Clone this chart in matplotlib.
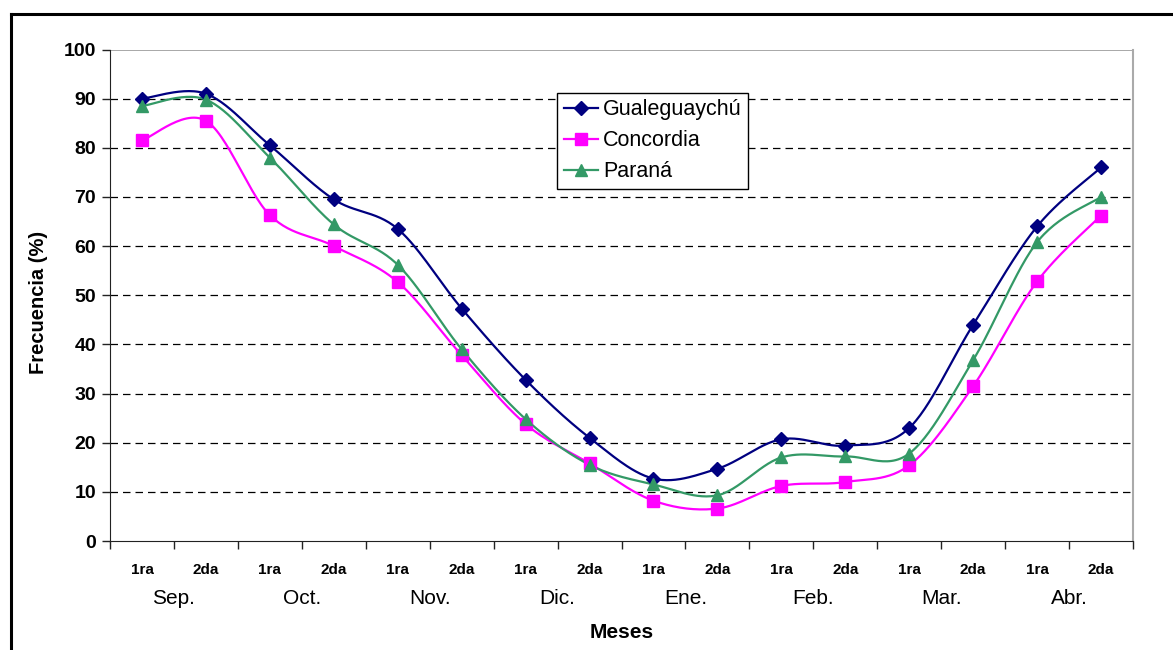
import numpy as np
import matplotlib
matplotlib.use("Agg")
import matplotlib.pyplot as plt
from matplotlib.lines import Line2D
from matplotlib.transforms import blended_transform_factory

plt.rcParams["font.family"] = ["Liberation Sans", "DejaVu Sans"]

months = ["Sep.", "Oct.", "Nov.", "Dic.", "Ene.", "Feb.", "Mar.", "Abr."]
halves = ["1ra", "2da"]

gualeguaychu = [90.0, 91.0, 80.5, 69.5, 63.5, 47.3, 32.8, 21.0,
                12.7, 14.7, 20.7, 19.4, 23.0, 44.0, 64.0, 76.0]
concordia = [81.5, 85.5, 66.3, 60.0, 52.7, 37.8, 23.8, 15.8,
             8.2, 6.6, 11.2, 12.0, 15.4, 31.5, 52.8, 66.2]
parana = [88.5, 89.8, 78.0, 64.4, 56.2, 39.0, 24.8, 15.5,
          11.5, 9.3, 17.0, 17.2, 17.8, 36.8, 60.8, 70.0]

series = [
    ("Gualeguaychú", gualeguaychu, "#000080", "D", 7),
    ("Concordia", concordia, "#FF00FF", "s", 8),
    ("Paraná", parana, "#339966", "^", 9),
]


def smooth(x, y, n=30):
    # bezier through the points, like excel's smoothed line
    x = np.asarray(x, float)
    y = np.asarray(y, float)
    px = np.concatenate([[x[0]], x, [x[-1]]])
    py = np.concatenate([[y[0]], y, [y[-1]]])
    t = np.linspace(0, 1, n)
    xs, ys = [], []
    for i in range(1, len(px) - 2):
        p0 = np.array([px[i], py[i]])
        p3 = np.array([px[i + 1], py[i + 1]])
        c1 = p0 + (p3 - np.array([px[i - 1], py[i - 1]])) / 6
        c2 = p3 - (np.array([px[i + 2], py[i + 2]]) - p0) / 6
        b = ((1 - t) ** 3)[:, None] * p0 + (3 * (1 - t) ** 2 * t)[:, None] * c1 \
            + (3 * (1 - t) * t ** 2)[:, None] * c2 + (t ** 3)[:, None] * p3
        xs.append(b[:, 0])
        ys.append(b[:, 1])
    return np.concatenate(xs), np.concatenate(ys)


fig = plt.figure(figsize=(11.73, 6.5), dpi=100)
ax = fig.add_axes([110 / 1173, 109 / 650, 1023 / 1173, 491.5 / 650])

x = np.arange(16)
for name, vals, color, marker, ms in series:
    sx, sy = smooth(x, vals)
    ax.plot(sx, sy, color=color, lw=1.6, zorder=3)
    ax.plot(x, vals, linestyle="none", marker=marker, color=color,
            markersize=ms, zorder=4)

ax.set_xlim(-0.5, 15.5)
ax.set_ylim(0, 100)

ax.set_yticks(range(0, 101, 10))
ax.tick_params(axis="y", direction="out", length=6, width=1, pad=4,
               labelsize=14, colors="#222222")
for lbl in ax.get_yticklabels():
    lbl.set_fontweight("bold")
    lbl.set_color("black")

ax.set_xticks(np.arange(-0.5, 16, 1))
ax.set_xticklabels([])
ax.tick_params(axis="x", direction="out", length=6, width=1, colors="#222222")

for i in range(1, 10):
    ax.axhline(i * 10, color="black", lw=0.9, ls=(0, (6, 4)), zorder=1)
ax.axhline(100, color="#999999", lw=1.2, zorder=1)

ax.spines["left"].set_color("#222222")
ax.spines["bottom"].set_color("#222222")
ax.spines["top"].set_visible(False)
ax.spines["right"].set_color("#aaaaaa")
ax.spines["right"].set_linewidth(1.5)

trans = blended_transform_factory(ax.transData, ax.transAxes)
for i in range(16):
    ax.text(i, -0.06, halves[i % 2], transform=trans, ha="center", va="center",
            fontsize=11, fontweight="bold")
for j, m in enumerate(months):
    ax.text(2 * j + 0.5, -0.118, m, transform=trans, ha="center", va="center",
            fontsize=15)

ax.text(0.5, -0.186, "Meses", transform=ax.transAxes, ha="center", va="center",
        fontsize=15, fontweight="bold")
fig.text(38 / 1173, 1 - 302 / 650, "Frecuencia (%)", rotation=90, ha="center",
         va="center", fontsize=14.5, fontweight="bold")

handles = [Line2D([0], [0], color=c, marker=mk, markersize=ms, lw=1.6)
           for _, _, c, mk, ms in series]
leg = ax.legend(handles, [s[0] for s in series], loc="upper left",
                bbox_to_anchor=(0.437, 0.912), fontsize=15.5, frameon=True,
                fancybox=False, edgecolor="black", framealpha=1,
                handlelength=1.6, handletextpad=0.25, borderpad=0.3,
                labelspacing=0.47, borderaxespad=0)
leg.get_frame().set_linewidth(1.0)

# outer chart border
fig.add_artist(Line2D([11 / 1173, 1], [1 - 14 / 650, 1 - 14 / 650],
                      color="black", lw=2.2, transform=fig.transFigure))
fig.add_artist(Line2D([11 / 1173, 11 / 1173], [0, 1 - 14 / 650],
                      color="black", lw=2.2, transform=fig.transFigure))

fig.savefig("out.png", dpi=100)
